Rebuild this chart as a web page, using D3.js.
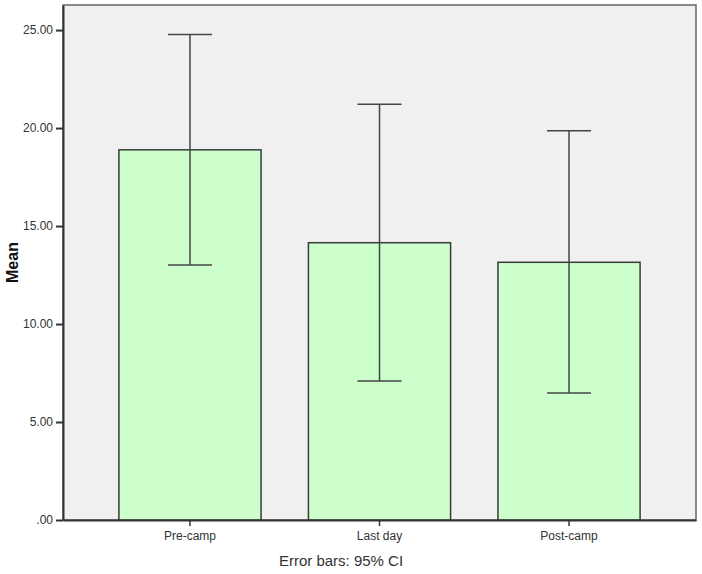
<!DOCTYPE html>
<html>
<head>
<meta charset="utf-8">
<script src="https://cdn.jsdelivr.net/npm/d3@7"></script>
<style>
  body { margin: 0; background: #fff; }
  text { font-family: "Liberation Sans", Arial, sans-serif; }
</style>
</head>
<body>
<script>
// chart values
var categories = ["Pre-camp", "Last day", "Post-camp"];
var means = [18.89, 14.15, 13.15];
var ciUpper = [24.78, 21.22, 19.86];
var ciLower = [13.01, 7.09, 6.48];
var yTicks = [0, 5, 10, 15, 20, 25];

var svg_width = 702;
var svg_height = 574;

// plot frame position
var plot = { left: 63, top: 5, right: 696, bottom: 520 };

var svg = d3.select("body")
    .append("svg")
    .attr("width", svg_width)
    .attr("height", svg_height);

var x = d3.scaleBand()
    .domain(categories)
    .range([plot.left, plot.right])
    .paddingInner(0.25)
    .paddingOuter(0.295);

var y = d3.scaleLinear()
    .domain([0, 26.28])
    .range([plot.bottom, plot.top]);

// grey panel
svg.append("rect")
    .attr("x", plot.left)
    .attr("y", plot.top)
    .attr("width", plot.right - plot.left)
    .attr("height", plot.bottom - plot.top)
    .attr("fill", "#f0f0f0")
    .attr("stroke", "#666")
    .attr("stroke-width", 1.5);

// bars
svg.append("g")
    .selectAll("rect")
    .data(categories)
    .enter()
    .append("rect")
    .attr("x", function (d) { return x(d); })
    .attr("y", function (d, i) { return y(means[i]); })
    .attr("width", x.bandwidth())
    .attr("height", function (d, i) { return y(0) - y(means[i]); })
    .attr("fill", "#ccffcc")
    .attr("stroke", "#3a3a3a")
    .attr("stroke-width", 1.5);

// error bars
var capHalf = 22;
var eb = svg.append("g")
    .selectAll("g")
    .data(categories)
    .enter()
    .append("g")
    .attr("stroke", "#444")
    .attr("stroke-width", 1.5);
eb.append("line")
    .attr("x1", function (d) { return x(d) + x.bandwidth() / 2; })
    .attr("x2", function (d) { return x(d) + x.bandwidth() / 2; })
    .attr("y1", function (d, i) { return y(ciUpper[i]); })
    .attr("y2", function (d, i) { return y(ciLower[i]); });
eb.append("line")
    .attr("x1", function (d) { return x(d) + x.bandwidth() / 2 - capHalf; })
    .attr("x2", function (d) { return x(d) + x.bandwidth() / 2 + capHalf; })
    .attr("y1", function (d, i) { return y(ciUpper[i]); })
    .attr("y2", function (d, i) { return y(ciUpper[i]); });
eb.append("line")
    .attr("x1", function (d) { return x(d) + x.bandwidth() / 2 - capHalf; })
    .attr("x2", function (d) { return x(d) + x.bandwidth() / 2 + capHalf; })
    .attr("y1", function (d, i) { return y(ciLower[i]); })
    .attr("y2", function (d, i) { return y(ciLower[i]); });

// y axis
var yAxis = svg.append("g")
    .attr("transform", "translate(" + plot.left + ",0)")
    .call(d3.axisLeft(y)
        .tickValues(yTicks)
        .tickSize(7)
        .tickSizeOuter(0)
        .tickPadding(3)
        .tickFormat(function (d) { return d === 0 ? ".00" : d3.format(".2f")(d); }));
yAxis.select(".domain").attr("stroke", "#333").attr("stroke-width", 2);
yAxis.selectAll(".tick line").attr("stroke", "#333").attr("stroke-width", 2);
yAxis.selectAll(".tick text")
    .attr("font-size", "12px")
    .attr("fill", "#333")
    .style("font-family", "Liberation Sans, Arial, sans-serif");

// x axis
var xAxis = svg.append("g")
    .attr("transform", "translate(0," + plot.bottom + ")")
    .call(d3.axisBottom(x).tickSize(6).tickSizeOuter(0).tickPadding(5));
xAxis.select(".domain").attr("stroke", "#333").attr("stroke-width", 2);
xAxis.selectAll(".tick line").attr("stroke", "#333").attr("stroke-width", 1.5);
xAxis.selectAll(".tick text")
    .attr("font-size", "12px")
    .attr("fill", "#333")
    .style("font-family", "Liberation Sans, Arial, sans-serif");

// axis title
svg.append("text")
    .attr("transform", "translate(18," + (plot.top + plot.bottom) / 2 + ") rotate(-90)")
    .attr("text-anchor", "middle")
    .attr("font-size", "16px")
    .attr("font-weight", "bold")
    .attr("fill", "#111")
    .text("Mean");

// footnote
svg.append("text")
    .attr("x", 341)
    .attr("y", 566)
    .attr("text-anchor", "middle")
    .attr("font-size", "15px")
    .attr("fill", "#333")
    .text("Error bars: 95% CI");
</script>
</body>
</html>
